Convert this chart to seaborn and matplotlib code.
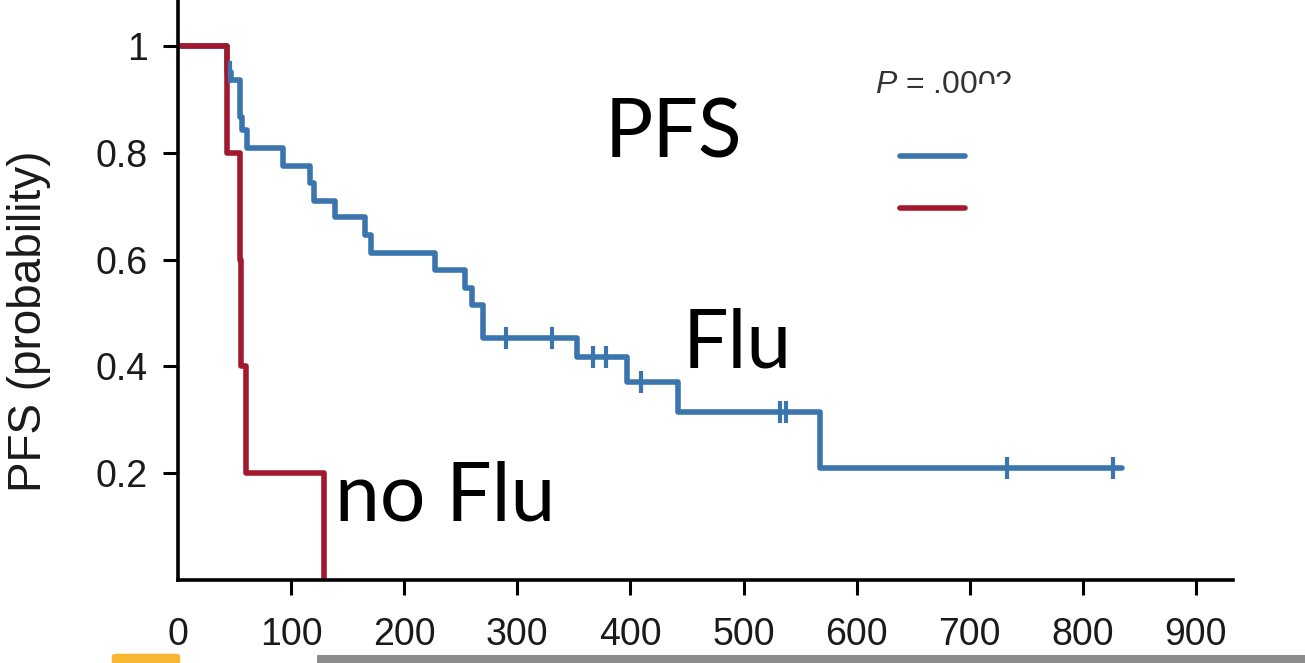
import matplotlib
matplotlib.use("Agg")
import matplotlib.pyplot as plt
import matplotlib.patches as mpatches
from matplotlib.lines import Line2D
from matplotlib.transforms import Bbox, TransformedBbox
import seaborn as sns
import pandas as pd

# Kaplan-Meier step points
flu_time = [0, 43, 47, 55, 57, 61, 93, 117, 120, 139, 165, 171, 227, 254, 260, 270, 353, 397, 442, 568, 835]
flu_surv = [1.0, 0.951, 0.936, 0.867, 0.843, 0.808, 0.775, 0.743, 0.710, 0.680, 0.646, 0.612,
            0.581, 0.547, 0.515, 0.453, 0.418, 0.371, 0.315, 0.210, 0.210]
flu_cens_time = [46, 290, 331, 367, 378, 409, 532, 538, 733, 827]
flu_cens_surv = [0.951, 0.453, 0.453, 0.418, 0.418, 0.371, 0.315, 0.315, 0.210, 0.210]

noflu_time = [0, 43, 55, 56, 60, 129]
noflu_surv = [1.0, 0.8, 0.6, 0.4, 0.2, 0.0]

groups = ["Flu", "no Flu"]
x_ticks = [0, 100, 200, 300, 400, 500, 600, 700, 800, 900]
y_ticks = [0.2, 0.4, 0.6, 0.8, 1.0]
y_tick_labels = ["0.2", "0.4", "0.6", "0.8", "1"]

blue = "#3a75ae"
red = "#a1192e"

sns.set_style("ticks")
plt.rcParams["font.family"] = ["Liberation Sans", "DejaVu Sans"]
plt.rcParams["mathtext.fontset"] = "custom"
plt.rcParams["mathtext.it"] = "Liberation Sans:italic"
plt.rcParams["mathtext.rm"] = "Liberation Sans"

df = pd.concat([
    pd.DataFrame({"time": flu_time, "surv": flu_surv, "group": groups[0]}),
    pd.DataFrame({"time": noflu_time, "surv": noflu_surv, "group": groups[1]}),
])

fig = plt.figure(figsize=(13.05, 6.63), dpi=100)
ax = fig.add_axes([178 / 1305, 83 / 663, 1055 / 1305, 580 / 663])

sns.lineplot(data=df, x="time", y="surv", hue="group", hue_order=groups,
             palette={groups[0]: blue, groups[1]: red}, estimator=None, sort=False,
             drawstyle="steps-post", linewidth=4.0, legend=False, ax=ax)
sns.scatterplot(x=flu_cens_time, y=flu_cens_surv, marker="|", s=230, linewidth=3.0,
                color=blue, zorder=3, ax=ax)

ax.set_xlim(0, 932.8)
ax.set_ylim(0, 1.086)
ax.set_xticks(x_ticks)
ax.set_yticks(y_ticks)
ax.set_yticklabels(y_tick_labels)
ax.set_xlabel("")
ax.set_ylabel("")
sns.despine(ax=ax)
for s in ["left", "bottom"]:
    ax.spines[s].set_linewidth(2.6)
    ax.spines[s].set_color("black")
ax.tick_params(axis="both", width=2.2, length=10.8, color="black", labelsize=27, labelcolor="#1a1a1a")
ax.tick_params(axis="x", pad=16)
ax.tick_params(axis="y", pad=11)
ax.xaxis.get_major_ticks()[0].tick1line.set_visible(False)

fig.text(29 / 1305, 0.515, "PFS (probability)", rotation=90, ha="center", va="center",
         fontsize=33, color="#1a1a1a")

# legend keys without text
handles = [Line2D([], [], color=blue, lw=4.0), Line2D([], [], color=red, lw=4.0)]
ax.legend(handles, ["", ""], loc="upper left", bbox_to_anchor=(0.6711, 0.7724), frameon=False,
          fontsize=20, handlelength=2.35, handletextpad=0, borderpad=0, labelspacing=0.92)

# p-value, last two digits cut off at the bottom
p1 = ax.text(0.6607, 0.8397, "$P$ = .00", transform=ax.transAxes, fontsize=23,
             color="#333333", ha="left", va="baseline")
p2 = ax.annotate("02", xy=(1, 0), xycoords=p1, ha="left", va="bottom", fontsize=23,
                 color="#333333", annotation_clip=False)
p2.set_clip_on(True)
p2.set_clip_box(TransformedBbox(Bbox([[0.6, 0.855], [0.95, 0.98]]), ax.transAxes))

# big overlay labels
big = dict(fontsize=58, family=["Lato", "DejaVu Sans"], color="black", ha="left", va="baseline")
ax.text(377, 0.792, "PFS", **big)
ax.text(446, 0.397, "Flu", **big)
ax.text(139, 0.112, "no Flu", **big)

# screenshot bits at the bottom edge
fig.patches.append(mpatches.FancyBboxPatch((117 / 1305, -0.01), 58 / 1305, 0.02,
                                           boxstyle="round,pad=0.004", transform=fig.transFigure,
                                           color="#f7b733", lw=0))
fig.patches.append(mpatches.Rectangle((317 / 1305, 0), 1 - 317 / 1305, 8 / 663,
                                      transform=fig.transFigure, color="#8c8c8c", lw=0))

fig.savefig("out.png", dpi=100)
